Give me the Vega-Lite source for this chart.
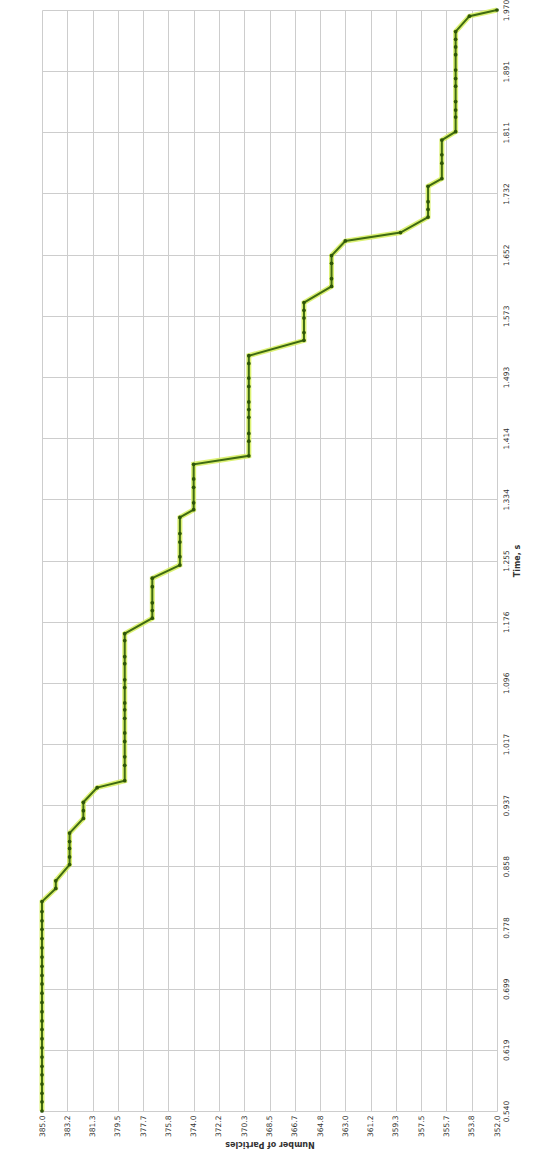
{
 "$schema": "https://vega.github.io/schema/vega-lite/v6.json",
 "width": 455,
 "height": 1101,
 "autosize": {"type": "none"},
 "padding": {"left": 42, "top": 10, "right": 45, "bottom": 41},
 "background": "white",
 "config": {"view": {"stroke": null}, "font": "DejaVu Sans"},
 "data": {"values": [
  {"t": 0.540, "n": 385}, {"t": 0.552, "n": 385}, {"t": 0.563, "n": 385}, {"t": 0.575, "n": 385},
  {"t": 0.587, "n": 385}, {"t": 0.598, "n": 385}, {"t": 0.610, "n": 385}, {"t": 0.622, "n": 385},
  {"t": 0.634, "n": 385}, {"t": 0.646, "n": 385}, {"t": 0.657, "n": 385}, {"t": 0.669, "n": 385},
  {"t": 0.681, "n": 385}, {"t": 0.693, "n": 385}, {"t": 0.705, "n": 385}, {"t": 0.716, "n": 385},
  {"t": 0.728, "n": 385}, {"t": 0.740, "n": 385}, {"t": 0.752, "n": 385}, {"t": 0.764, "n": 385},
  {"t": 0.776, "n": 385}, {"t": 0.787, "n": 385}, {"t": 0.799, "n": 385}, {"t": 0.812, "n": 385},
  {"t": 0.829, "n": 384}, {"t": 0.839, "n": 384},
  {"t": 0.860, "n": 383}, {"t": 0.870, "n": 383}, {"t": 0.881, "n": 383}, {"t": 0.890, "n": 383}, {"t": 0.901, "n": 383},
  {"t": 0.920, "n": 382}, {"t": 0.930, "n": 382}, {"t": 0.941, "n": 382},
  {"t": 0.960, "n": 381},
  {"t": 0.969, "n": 379}, {"t": 0.989, "n": 379}, {"t": 1.000, "n": 379}, {"t": 1.020, "n": 379},
  {"t": 1.031, "n": 379}, {"t": 1.050, "n": 379}, {"t": 1.061, "n": 379}, {"t": 1.070, "n": 379},
  {"t": 1.090, "n": 379}, {"t": 1.100, "n": 379}, {"t": 1.121, "n": 379}, {"t": 1.130, "n": 379},
  {"t": 1.151, "n": 379}, {"t": 1.160, "n": 379},
  {"t": 1.180, "n": 377}, {"t": 1.190, "n": 377}, {"t": 1.200, "n": 377}, {"t": 1.221, "n": 377}, {"t": 1.232, "n": 377},
  {"t": 1.249, "n": 375}, {"t": 1.260, "n": 375}, {"t": 1.279, "n": 375}, {"t": 1.290, "n": 375}, {"t": 1.311, "n": 375},
  {"t": 1.321, "n": 374}, {"t": 1.330, "n": 374}, {"t": 1.350, "n": 374}, {"t": 1.361, "n": 374}, {"t": 1.380, "n": 374},
  {"t": 1.391, "n": 370}, {"t": 1.410, "n": 370}, {"t": 1.420, "n": 370}, {"t": 1.441, "n": 370}, {"t": 1.451, "n": 370},
  {"t": 1.461, "n": 370}, {"t": 1.481, "n": 370}, {"t": 1.492, "n": 370}, {"t": 1.511, "n": 370}, {"t": 1.521, "n": 370},
  {"t": 1.541, "n": 366}, {"t": 1.551, "n": 366}, {"t": 1.570, "n": 366}, {"t": 1.580, "n": 366}, {"t": 1.590, "n": 366},
  {"t": 1.611, "n": 364}, {"t": 1.621, "n": 364}, {"t": 1.641, "n": 364}, {"t": 1.651, "n": 364},
  {"t": 1.670, "n": 363},
  {"t": 1.681, "n": 359},
  {"t": 1.701, "n": 357}, {"t": 1.711, "n": 357}, {"t": 1.721, "n": 357}, {"t": 1.741, "n": 357},
  {"t": 1.751, "n": 356}, {"t": 1.771, "n": 356}, {"t": 1.782, "n": 356}, {"t": 1.801, "n": 356},
  {"t": 1.812, "n": 355}, {"t": 1.831, "n": 355}, {"t": 1.840, "n": 355}, {"t": 1.851, "n": 355},
  {"t": 1.871, "n": 355}, {"t": 1.881, "n": 355}, {"t": 1.892, "n": 355}, {"t": 1.912, "n": 355},
  {"t": 1.922, "n": 355}, {"t": 1.932, "n": 355}, {"t": 1.942, "n": 355},
  {"t": 1.962, "n": 354},
  {"t": 1.970, "n": 352}
 ]},
 "encoding": {
  "x": {
   "field": "n", "type": "quantitative",
   "scale": {"domain": [352, 385], "reverse": true, "nice": false, "zero": false},
   "axis": {
    "orient": "bottom",
    "values": [385, 383.1666667, 381.3333333, 379.5, 377.6666667, 375.8333333, 374, 372.1666667, 370.3333333, 368.5, 366.6666667, 364.8333333, 363, 361.1666667, 359.3333333, 357.5, 355.6666667, 353.8333333, 352],
    "format": ".1f",
    "labelAngle": 270,
    "labelFontSize": 7.5,
    "labelColor": "#333333",
    "labelFlush": false,
    "labelOverlap": false,
    "labelPadding": 4,
    "ticks": false,
    "domain": false,
    "grid": true,
    "gridColor": "#cdcdcd",
    "gridWidth": 1,
    "title": "Number of Particles",
    "titleAngle": 180,
    "titleBaseline": "bottom",
    "titleFontWeight": "bold",
    "titleFontSize": 8,
    "titleColor": "#333333",
    "titlePadding": 3
   }
  },
  "y": {
   "field": "t", "type": "quantitative",
   "scale": {"domain": [0.54, 1.97], "nice": false, "zero": false},
   "axis": {
    "orient": "right",
    "values": [0.54, 0.6194444, 0.6988889, 0.7783333, 0.8577778, 0.9372222, 1.0166667, 1.0961111, 1.1755556, 1.255, 1.3344444, 1.4138889, 1.4933333, 1.5727778, 1.6522222, 1.7316667, 1.8111111, 1.8905556, 1.97],
    "format": ".3f",
    "labelAngle": 270,
    "labelFontSize": 7.5,
    "labelColor": "#333333",
    "labelFlush": false,
    "labelOverlap": false,
    "labelPadding": 5,
    "ticks": false,
    "domain": false,
    "grid": true,
    "gridColor": "#cdcdcd",
    "gridWidth": 1,
    "title": "Time, s",
    "titleAngle": 270,
    "titleBaseline": "top",
    "titleFontWeight": "bold",
    "titleFontSize": 8,
    "titleColor": "#333333",
    "titlePadding": 4
   }
  }
 },
 "layer": [
  {"mark": {"type": "line", "stroke": "#d6ef5c", "strokeWidth": 5, "opacity": 0.85},
   "encoding": {"order": {"field": "t", "type": "quantitative"}}},
  {"mark": {"type": "line", "stroke": "#3f6b12", "strokeWidth": 2},
   "encoding": {"order": {"field": "t", "type": "quantitative"}}},
  {"mark": {"type": "point", "filled": true, "color": "#2e5608", "size": 14, "opacity": 1}}
 ]
}
